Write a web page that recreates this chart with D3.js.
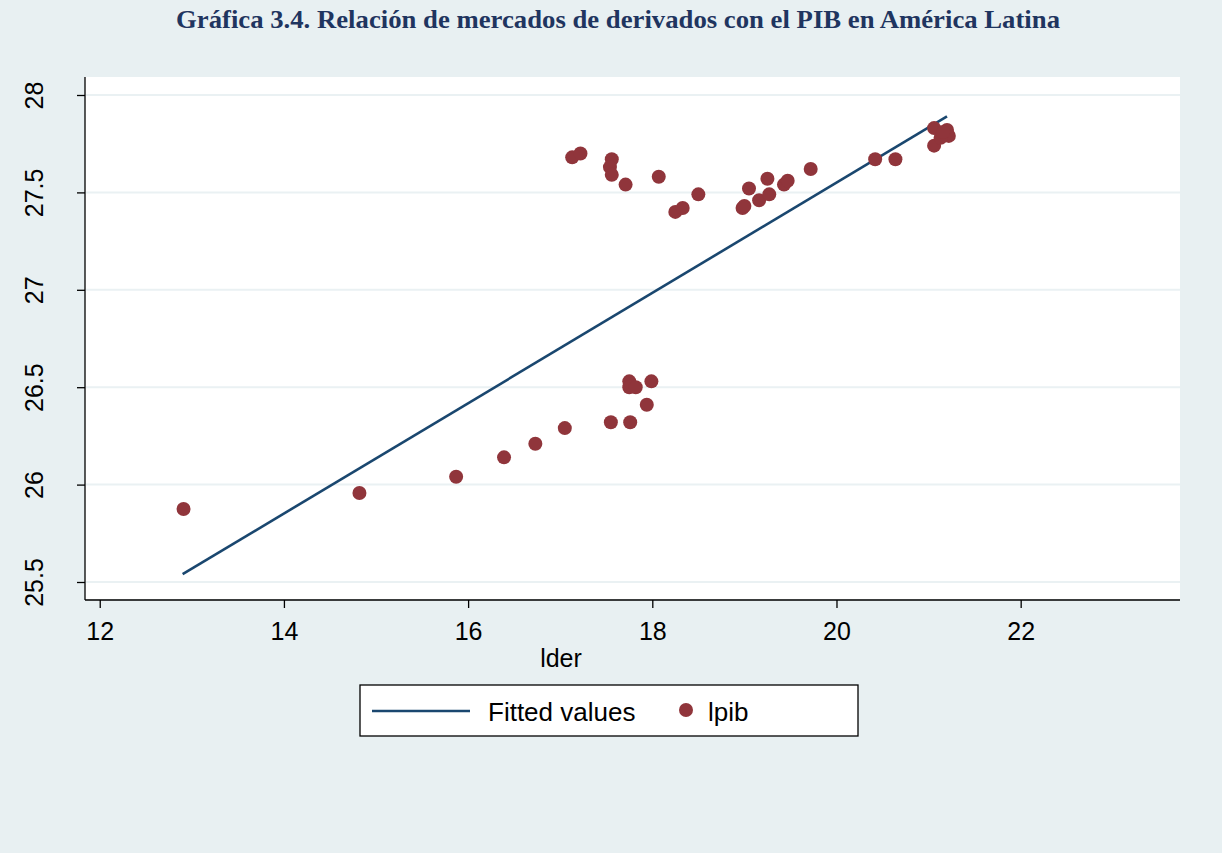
<!DOCTYPE html>
<html>
<head>
<meta charset="utf-8">
<script src="https://d3js.org/d3.v7.min.js"></script>
<style>
  body { margin: 0; background: #e8f0f2; }
  svg { display: block; }
</style>
</head>
<body>
<div id="chart"></div>
<script>
  // scatter of lpib against lder
  const lder = [12.91, 14.82, 15.87, 16.39, 16.73, 17.05, 17.55, 17.76, 17.94, 17.75, 17.75, 17.82, 17.99,
    17.13, 17.22, 17.56, 17.54, 17.56, 17.71, 18.07, 18.25, 18.33, 18.50, 18.98, 19.00, 19.05, 19.16,
    19.25, 19.27, 19.43, 19.47, 19.72, 20.42, 20.64, 21.06, 21.06, 21.20, 21.22, 21.13, 21.16];
  const lpib = [25.875, 25.957, 26.04, 26.14, 26.21, 26.29, 26.32, 26.32, 26.41, 26.53, 26.50, 26.50, 26.53,
    27.68, 27.70, 27.67, 27.63, 27.59, 27.54, 27.58, 27.40, 27.42, 27.49, 27.42, 27.43, 27.52, 27.46,
    27.57, 27.49, 27.54, 27.56, 27.62, 27.67, 27.67, 27.83, 27.74, 27.82, 27.79, 27.78, 27.81];

  // fitted values line (endpoints)
  const fitX = [12.9, 21.2];
  const fitY = [25.54, 27.89];

  const xTicks = [12, 14, 16, 18, 20, 22];
  const yTicks = [25.5, 26, 26.5, 27, 27.5, 28];

  const width = 1222, height = 853;
  const bg = "#e8f0f2";
  const lineColor = "#1a476f";
  const dotColor = "#90353b";

  const svg = d3.select("#chart").append("svg")
    .attr("width", width)
    .attr("height", height);

  svg.append("rect").attr("width", width).attr("height", height).attr("fill", bg);

  // title
  svg.append("text")
    .attr("x", 618)
    .attr("y", 28)
    .attr("text-anchor", "middle")
    .attr("textLength", 884)
    .attr("lengthAdjust", "spacingAndGlyphs")
    .style("font-family", "'Liberation Serif', 'Times New Roman', serif")
    .style("font-weight", "bold")
    .style("font-size", "26px")
    .style("fill", "#1f3560")
    .text("Gráfica 3.4. Relación de mercados de derivados con el PIB en América Latina");

  const x = d3.scaleLinear().domain([11.84, 23.73]).range([85, 1180]);
  const y = d3.scaleLinear().domain([25.5, 28]).range([582, 95]);

  // plot region
  svg.append("rect")
    .attr("x", 85).attr("y", 77)
    .attr("width", 1095).attr("height", 522)
    .attr("fill", "#ffffff");

  // gridlines
  svg.append("g")
    .selectAll("line")
    .data(yTicks)
    .join("line")
    .attr("x1", 86).attr("x2", 1180)
    .attr("y1", d => y(d)).attr("y2", d => y(d))
    .attr("stroke", "#eaf1f3")
    .attr("stroke-width", 2);

  // fitted line
  svg.append("path")
    .datum(fitX.map((v, i) => [v, fitY[i]]))
    .attr("d", d3.line().x(d => x(d[0])).y(d => y(d[1])))
    .attr("fill", "none")
    .attr("stroke", lineColor)
    .attr("stroke-width", 2.6);

  // points
  svg.append("g")
    .selectAll("circle")
    .data(lder.map((v, i) => [v, lpib[i]]))
    .join("circle")
    .attr("cx", d => x(d[0]))
    .attr("cy", d => y(d[1]))
    .attr("r", 7)
    .attr("fill", dotColor);

  const fontAxis = "'Liberation Sans', Arial, sans-serif";

  // x axis
  const gx = svg.append("g")
    .attr("transform", "translate(0,600)")
    .call(d3.axisBottom(x).tickValues(xTicks).tickSize(8).tickPadding(14).tickFormat(d3.format("d")));
  gx.select(".domain").attr("d", "M85,0H1180").attr("stroke", "#000").attr("stroke-width", 1.3);
  gx.selectAll(".tick line").attr("stroke", "#000").attr("stroke-width", 1.3);
  gx.selectAll(".tick text")
    .style("font-family", fontAxis)
    .style("font-size", "25px")
    .style("fill", "#000");

  // y axis
  const gy = svg.append("g")
    .attr("transform", "translate(85,0)")
    .call(d3.axisLeft(y).tickValues(yTicks).tickSize(8).tickFormat(d => d));
  gy.select(".domain").attr("d", "M0,77V600").attr("stroke", "#000").attr("stroke-width", 1.3);
  gy.selectAll(".tick line").attr("stroke", "#000").attr("stroke-width", 1.3);
  gy.selectAll(".tick text")
    .attr("x", 0).attr("y", 0).attr("dy", 0)
    .attr("transform", "translate(-51,0) rotate(-90)")
    .attr("text-anchor", "middle")
    .attr("dominant-baseline", "central")
    .style("font-family", fontAxis)
    .style("font-size", "25px")
    .style("fill", "#000");

  // x axis title
  svg.append("text")
    .attr("x", 561)
    .attr("y", 667)
    .attr("text-anchor", "middle")
    .style("font-family", fontAxis)
    .style("font-size", "25px")
    .text("lder");

  // legend
  const lg = svg.append("g");
  lg.append("rect")
    .attr("x", 360).attr("y", 685)
    .attr("width", 498).attr("height", 51)
    .attr("fill", "#fff")
    .attr("stroke", "#000")
    .attr("stroke-width", 1.3);
  lg.append("line")
    .attr("x1", 372).attr("x2", 470)
    .attr("y1", 711).attr("y2", 711)
    .attr("stroke", lineColor)
    .attr("stroke-width", 2.6);
  lg.append("text")
    .attr("x", 488).attr("y", 721)
    .style("font-family", fontAxis)
    .style("font-size", "26px")
    .text("Fitted values");
  lg.append("circle")
    .attr("cx", 686).attr("cy", 710)
    .attr("r", 7)
    .attr("fill", dotColor);
  lg.append("text")
    .attr("x", 708).attr("y", 721)
    .style("font-family", fontAxis)
    .style("font-size", "26px")
    .text("lpib");
</script>
</body>
</html>
